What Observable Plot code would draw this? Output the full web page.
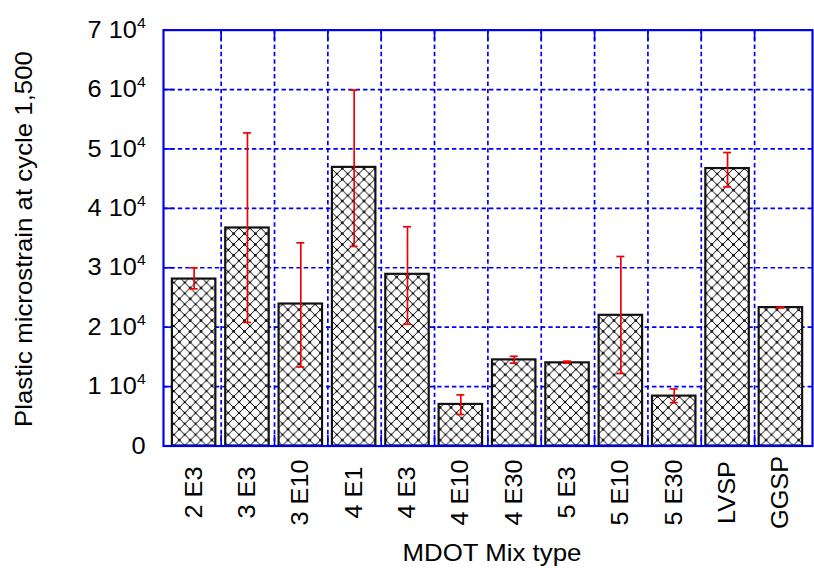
<!DOCTYPE html>
<html><head><meta charset="utf-8">
<script src="https://cdn.jsdelivr.net/npm/d3@7"></script>
<script src="https://cdn.jsdelivr.net/npm/@observablehq/plot@0.6"></script>
<style>
html,body{margin:0;padding:0;overflow:hidden;background:#fff;}
</style></head><body><div id="chart"></div>
<script>
const categories = ["2 E3","3 E3","3 E10","4 E1","4 E3","4 E10","4 E30","5 E3","5 E10","5 E30","LVSP","GGSP"];
const values  = [28100, 36700, 23900, 46900, 28900, 7000, 14500, 14000, 22000, 8400, 46700, 23300];
const errLow  = [26450, 20800, 13300, 33600, 20500, 5300, 13950, 13950, 12200, 7300, 43600, 23250];
const errHigh = [30000, 52700, 34200, 59900, 36900, 8600, 15100, 14280, 31900, 9600, 49400, 23400];
const yTicks = [0, 10000, 20000, 30000, 40000, 50000, 60000, 70000];
const yLabel = "Plastic microstrain at cycle 1,500";
const xLabel = "MDOT Mix type";

const W = 824, H = 575, mL = 165, mR = 2, mT = 30, mB = 124;
const plotW = W - mL - mR, plotH = H - mT - mB;
const step = plotW / categories.length;
const pad = 0.18;
const bw = step * (1 - pad);
const capInset = (bw - 9) / 2;
const data = categories.map((c, i) => ({cat: c, v: values[i], lo: errLow[i], hi: errHigh[i]}));
const blue = "#0000f0";
const red = "#ee0000";
const fmt = d => d === 0 ? "0" : `${d / 1e4} 10⁴`;
const font = "'Liberation Sans', Arial, sans-serif";

const chart = Plot.plot({
  width: W, height: H, marginLeft: mL, marginRight: mR, marginTop: mT, marginBottom: mB,
  style: {fontFamily: font, fontSize: "24px", color: "#000", background: "#fff", overflow: "visible"},
  x: {type: "band", domain: categories, paddingInner: pad, paddingOuter: pad / 2, axis: null},
  y: {domain: [0, 70000], ticks: yTicks, tickFormat: fmt, tickSize: 0, tickPadding: 18, label: null},
  marks: [
    Plot.ruleY(yTicks.slice(1, -1), {stroke: blue, strokeWidth: 1.7, strokeDasharray: "4.5,3"}),
    Plot.ruleX(categories.slice(0, -1), {x: d => d, dx: step / 2, stroke: blue, strokeWidth: 1.7, strokeDasharray: "4.5,3"}),
    Plot.tickY(yTicks, {y: d => d, stroke: blue, strokeWidth: 1.7, insetRight: plotW - 11}),
    Plot.ruleX(categories.slice(0, -1), {x: d => d, dx: step / 2, stroke: blue, strokeWidth: 1.7, insetTop: plotH - 11}),
    Plot.ruleX(categories.slice(0, -1), {x: d => d, dx: step / 2, stroke: blue, strokeWidth: 1.7, insetBottom: plotH - 11}),
    Plot.barY(data, {x: "cat", y: "v", fill: "url(#xhatch)", stroke: "#111", strokeWidth: 2.2}),
    Plot.ruleX(data, {x: "cat", y1: "lo", y2: "hi", stroke: red, strokeWidth: 1.7}),
    Plot.tickY(data, {x: "cat", y: "hi", stroke: red, strokeWidth: 1.7, insetLeft: capInset, insetRight: capInset}),
    Plot.tickY(data, {x: "cat", y: "lo", stroke: red, strokeWidth: 1.7, insetLeft: capInset, insetRight: capInset}),
    Plot.frame({stroke: blue, strokeWidth: 2.2}),
    Plot.text(categories, {x: d => d, frameAnchor: "bottom", dy: 47, rotate: -90, textAnchor: "middle", lineAnchor: "middle", fontSize: 24, fill: "#000"}),
    Plot.text([xLabel], {frameAnchor: "bottom", dx: 4, dy: 109, textAnchor: "middle", lineAnchor: "middle", fontSize: 24, fill: "#000"}),
    Plot.text([yLabel], {frameAnchor: "left", dx: -141, dy: 1, rotate: -90, textAnchor: "middle", lineAnchor: "middle", fontSize: 24, fill: "#000"})
  ]
});

const defs = d3.select(chart).insert("defs", ":first-child");
const pat = defs.append("pattern").attr("id", "xhatch").attr("patternUnits", "userSpaceOnUse")
  .attr("width", 11).attr("height", 11);
pat.append("rect").attr("width", 11).attr("height", 11).attr("fill", "#fff");
pat.append("path").attr("d", "M-1,-1L12,12M12,-1L-1,12").attr("stroke", "#000").attr("stroke-width", 1.0);
for (const [cx, cy] of [[0,0],[11,0],[0,11],[11,11],[5.5,5.5]]) {
  pat.append("circle").attr("cx", cx).attr("cy", cy).attr("r", 1.3).attr("fill", "#000");
}
document.getElementById("chart").appendChild(chart);

// superscript exponent in y tick labels
d3.select(chart).selectAll("text").each(function () {
  const t = d3.select(this);
  const s = t.text();
  if (s.endsWith("⁴")) {
    t.text(s.slice(0, -1));
    t.append("tspan").attr("dy", -10).attr("font-size", 15).text("4");
  }
});
// wide glyphs, as in the reference
d3.select(chart).selectAll("text").each(function () {
  const s = this.textContent;
  const k = (s === xLabel || s === yLabel) ? 1.09 : 1.07;
  const len = this.getComputedTextLength();
  if (len > 0) {
    this.setAttribute("textLength", (len * k).toFixed(1));
    this.setAttribute("lengthAdjust", "spacingAndGlyphs");
  }
});
</script></body></html>
